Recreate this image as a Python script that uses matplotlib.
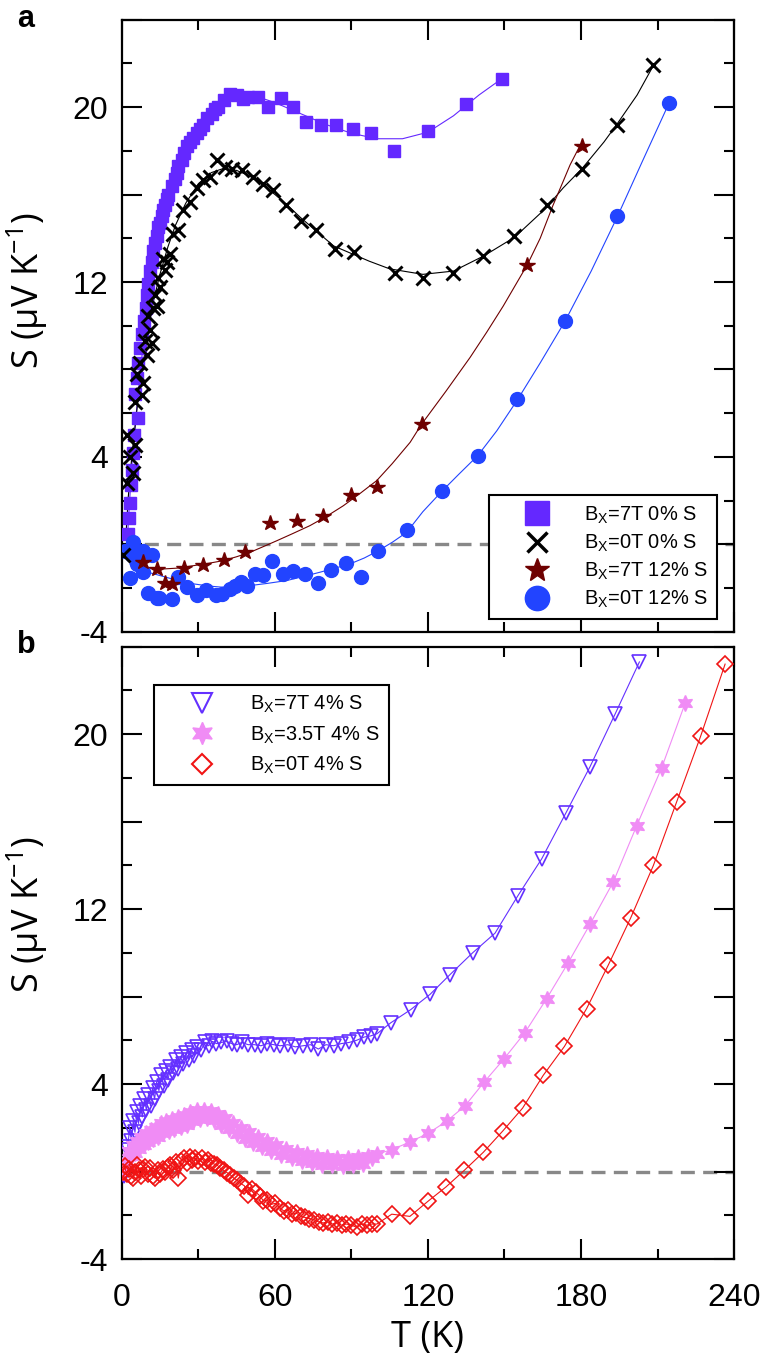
import matplotlib
matplotlib.use('Agg')
import matplotlib.pyplot as plt
from matplotlib.lines import Line2D
from matplotlib.ticker import MultipleLocator, FuncFormatter

plt.rcParams['font.family'] = ['Liberation Sans', 'DejaVu Sans']
plt.rcParams['mathtext.fontset'] = 'custom'
plt.rcParams['mathtext.rm'] = 'Liberation Sans'
plt.rcParams['axes.unicode_minus'] = False

# ---------------- panel a (0% S and 12% S) ----------------
sq_T = [2.2, 2.6, 3.1, 3.5, 3.8, 4.2, 4.6, 6.1, 5.0, 5.8, 6.4, 7.2, 7.7, 8.6, 9.4, 9.7, 10.3,
        11.0, 11.6, 12.3, 13.0, 13.6, 14.2, 14.9, 15.6, 16.2, 16.9, 17.5, 18.2, 19.5, 20.8,
        21.4, 22.1, 23.4, 24.5, 25.4, 26.7, 28.0, 29.3, 30.6, 31.9, 33.5, 35.2, 36.5, 37.8,
        40.0, 42.4, 45.0, 47.6, 49.5, 53.5, 57.4, 62.2, 67.2, 72.2, 78.0, 83.9, 90.5, 97.6,
        106.8, 120.1, 134.8, 148.9]
sq_S = [0.5, 1.2, 1.9, 2.7, 3.4, 4.2, 5.0, 5.8, 6.9, 7.6, 8.3, 9.0, 9.6, 10.2, 10.8, 11.4, 11.9,
        12.5, 12.9, 13.4, 13.8, 14.1, 14.5, 14.7, 15.0, 15.3, 15.5, 15.8, 16.0, 16.4, 16.7,
        17.0, 17.3, 17.6, 17.9, 18.2, 18.4, 18.6, 18.8, 19.0, 19.2, 19.5, 19.7, 19.9, 20.0,
        20.3, 20.6, 20.55, 20.35, 20.45, 20.45, 20.0, 20.4, 20.0, 19.3, 19.2, 19.2, 19.0, 18.8,
        18.0, 18.9, 20.15, 21.3]

x_T = [0.5, 1.8, 4.4, 1.8, 5.1, 3.0, 5.1, 7.7, 5.8, 7.1, 8.4, 9.7, 9.0, 11.0, 11.6, 10.3, 12.3,
       13.6, 12.9, 14.9, 14.2, 16.9, 16.2, 17.5, 18.8, 20.1, 22.1, 24.0, 26.7, 29.3, 31.9,
       34.5, 37.1, 40.4, 43.0, 46.9, 51.5, 55.4, 59.3, 64.4, 70.3, 76.2, 83.5, 91.1, 107.2,
       117.9, 129.7, 141.7, 153.7, 166.5, 180.5, 194.3, 208.4]
x_S = [-0.5, 2.8, 3.25, 5.0, 4.55, 4.0, 6.5, 6.85, 7.8, 8.3, 7.4, 8.65, 9.3, 9.8, 9.2, 10.45, 10.8,
       10.9, 11.4, 11.75, 12.2, 12.55, 13.05, 12.9, 13.3, 14.2, 14.4, 15.3, 15.65, 16.3, 16.65,
       16.8, 17.6, 17.25, 17.15, 17.1, 16.8, 16.5, 16.2, 15.5, 14.8, 14.4, 13.5, 13.35, 12.4,
       12.2, 12.4, 13.2, 14.1, 15.5, 17.15, 19.2, 21.9]

st_T = [8.4, 13.6, 16.9, 19.5, 24.3, 31.9, 40.0, 48.2, 58.0, 68.5, 78.9, 89.7, 99.9, 117.5,
        159.0, 180.3]
st_S = [-0.82, -1.12, -1.76, -1.8, -1.09, -0.94, -0.69, -0.33, 0.98, 1.09, 1.32, 2.28, 2.61, 5.5,
        12.8, 18.2]

ci_T = [1.0, 3.1, 3.8, 4.4, 6.0, 8.4, 8.4, 10.3, 11.6, 13.9, 14.6, 19.5, 22.1, 25.6, 29.3, 32.9,
        36.9, 39.1, 42.4, 44.3, 46.5, 48.9, 52.2, 55.4, 58.7, 63.0, 67.0, 71.8, 77.0, 82.1,
        87.7, 93.6, 100.3, 111.7, 125.6, 139.5, 155.0, 173.7, 194.3, 214.6]
ci_S = [-0.3, -1.55, -0.5, 0.13, -0.9, -0.28, -1.27, -2.2, -0.5, -2.45, -2.45, -2.5, -1.5, -1.95,
        -2.3, -2.08, -2.3, -2.25, -2.03, -1.88, -1.7, -1.88, -1.35, -1.38, -0.77, -1.36, -1.2,
        -1.36, -1.74, -1.17, -0.85, -1.48, -0.3, 0.66, 2.45, 4.06, 6.63, 10.2, 15.0, 20.2]

# fitted guide lines of panel a
sq_fit_T = [2, 3, 4, 6, 8, 10, 13, 16, 20, 25, 30, 35, 40, 45, 50, 55, 60, 70, 80, 90, 100,
            110, 120, 130, 140, 149]
sq_fit_S = [0.0, 2.0, 3.8, 6.5, 8.8, 10.7, 13.0, 14.8, 16.6, 18.2, 19.3, 20.0, 20.4, 20.5,
            20.5, 20.4, 20.2, 19.7, 19.2, 18.8, 18.55, 18.55, 18.85, 19.6, 20.55, 21.3]
x_fit_T = [1.5, 2.5, 4, 6, 8, 10, 12.5, 15, 18, 21, 25, 30, 35, 40, 45, 50, 55, 60, 65, 70, 76,
           83, 90, 97, 105, 118, 130, 142, 154, 166, 173, 180.5, 189, 194, 202, 208.4]
x_fit_S = [0.3, 2.2, 4.2, 6.3, 8.0, 9.6, 11.2, 12.4, 13.6, 14.6, 15.6, 16.5, 17.0, 17.2, 17.1,
           16.85, 16.45, 16.0, 15.5, 14.95, 14.35, 13.65, 13.3, 12.95, 12.6, 12.35, 12.5, 13.2,
           14.05, 15.35, 16.3, 17.2, 18.4, 19.2, 20.55, 21.9]
st_fit_T = [3.8, 8, 12, 16.2, 22, 28, 34, 39.7, 45, 50.2, 55, 60.7, 67, 73.7, 80, 86.8, 93,
            99.9, 106, 113, 117.5, 127, 136.5, 143, 149.5, 154, 159, 164, 169, 173, 175.7, 179,
            180.3]
st_fit_S = [-0.89, -1.0, -1.08, -1.12, -1.08, -0.97, -0.86, -0.74, -0.56, -0.36, -0.12, 0.17,
            0.5, 0.86, 1.27, 1.77, 2.3, 2.92, 3.7, 4.67, 5.5, 7.0, 8.55, 9.7, 10.9, 11.8, 12.8,
            14.0, 15.5, 16.6, 17.35, 18.1, 18.3]
ci_fit_T = [3.1, 8, 14.9, 21, 28, 34, 39, 45, 50.2, 57, 64.6, 71, 77.6, 83, 89.4, 95, 100.3,
            106, 111.6, 118, 125.6, 132, 139.5, 147, 155, 164, 173.7, 184, 194.3, 204, 214.6]
ci_fit_S = [-0.89, -1.2, -1.42, -1.62, -1.8, -1.9, -1.95, -1.93, -1.88, -1.78, -1.65, -1.47,
            -1.27, -1.1, -0.89, -0.62, -0.3, 0.1, 0.55, 1.5, 2.45, 3.2, 4.06, 5.2, 6.6, 8.3,
            10.2, 12.5, 15.0, 17.5, 20.2]

# ---------------- panel b (4% S) ----------------
tri_T = [0.8, 1.5, 2.2, 3.0, 3.7, 4.4, 5.1, 5.8, 6.5, 7.2, 8.0, 8.8, 9.6, 10.4, 11.2, 12.0, 12.8,
         13.6, 14.5, 15.4, 16.3, 17.2, 18.1, 19.0, 20.0, 21.0, 22.0, 23.0, 24.0, 25.1, 26.2,
         27.3, 28.4, 29.6, 31.0, 32.5, 34.0, 35.5, 37.0, 39.0, 41.0, 43.0, 45.0, 47.0, 49.5,
         52.0, 54.5, 57.0, 59.5, 62.0, 65.0, 68.0, 71.0, 74.0, 77.0, 80.0, 83.0, 86.0, 89.0,
         92.0, 95.0, 97.5, 100.0, 105.4, 113.2, 120.8, 128.6, 137.5, 146.3, 155.2, 164.6,
         174.1, 183.5, 193.3, 202.9]
tri_S = [-0.2, 1.1, 1.0, 2.0, 1.4, 2.3, 1.8, 2.7, 2.2, 3.0, 2.5, 3.3, 2.8, 3.5, 3.0, 3.8, 3.3,
         4.1, 3.7, 4.4, 3.9, 4.6, 4.2, 4.8, 4.5, 5.1, 4.7, 5.25, 4.9, 5.4, 5.1, 5.55, 5.3,
         5.7, 5.55, 5.9, 5.75, 5.95, 5.85, 5.9, 5.95, 5.85, 5.8, 5.9, 5.8, 5.8, 5.75, 5.85, 5.8,
         5.75, 5.8, 5.7, 5.75, 5.8, 5.6, 5.8, 5.75, 5.85, 5.9, 6.0, 6.15, 6.2, 6.3, 6.8, 7.4,
         8.1, 9.0, 10.0, 10.9, 12.6, 14.3, 16.4, 18.5, 20.9, 23.3]

hex_T = [0.5, 1.2, 2.0, 2.8, 3.6, 4.4, 5.2, 6.0, 6.8, 7.6, 8.5, 9.4, 10.3, 11.2, 12.2, 13.2,
         14.2, 15.2, 16.2, 17.3, 18.4, 19.5, 20.6, 21.8, 23.0, 24.2, 25.4, 26.7, 28.0, 29.3,
         30.6, 32.0, 33.4, 34.8, 36.2, 37.6, 39.0, 40.5, 42.0, 43.5, 45.0, 46.6, 48.2, 49.8,
         51.5, 53.2, 55.0, 56.8, 58.6, 60.5, 62.5, 64.5, 66.5, 68.5, 70.5, 72.5, 74.5, 76.5,
         78.5, 80.5, 82.5, 84.5, 86.5, 88.5, 90.5, 92.5, 94.5, 96.5, 98.0, 100.0, 105.8, 112.9,
         120.1, 127.3, 134.5, 142.1, 149.8, 158.0, 166.5, 175.0, 183.5, 192.7, 201.8, 211.6,
         220.8]
hex_S = [0.0, 0.5, 0.35, 0.95, 0.7, 1.2, 0.85, 1.4, 1.05, 1.6, 1.2, 1.75, 1.35, 1.9, 1.5, 2.05,
         1.6, 2.2, 1.75, 2.3, 1.85, 2.4, 1.95, 2.5, 2.05, 2.6, 2.15, 2.7, 2.3, 2.8, 2.4, 2.8,
         2.45, 2.75, 2.35, 2.65, 2.15, 2.45, 1.95, 2.2, 1.7, 2.0, 1.5, 1.8, 1.3, 1.6, 1.1, 1.4,
         0.95, 1.2, 0.75, 1.05, 0.6, 0.9, 0.5, 0.8, 0.4, 0.7, 0.3, 0.65, 0.3, 0.6, 0.25, 0.6,
         0.3, 0.65, 0.35, 0.7, 0.6, 0.8, 1.0, 1.35, 1.75, 2.3, 3.0, 4.1, 5.15, 6.35,
         7.9, 9.55, 11.3, 13.25, 15.8, 18.45, 21.4]

dia_T = [0.3, 1.0, 1.8, 2.6, 3.4, 4.2, 5.0, 5.8, 6.6, 7.4, 8.3, 9.2, 10.1, 11.0, 12.0, 13.0,
         14.0, 15.0, 16.0, 17.0, 18.0, 19.0, 20.0, 21.0, 22.1, 23.2, 24.3, 25.4, 26.5, 27.6,
         28.8, 30.0, 31.2, 32.4, 33.6, 34.8, 36.0, 37.3, 38.6, 39.9, 41.2, 42.5, 43.8, 45.2,
         46.6, 48.0, 49.5, 51.0, 52.5, 54.0, 55.5, 57.0, 58.6, 60.2, 61.8, 63.4, 65.0, 66.7,
         68.4, 70.1, 71.8, 73.5, 75.3, 77.1, 78.9, 80.7, 82.5, 84.3, 86.1, 88.0, 90.0, 92.0,
         94.0, 96.0, 98.0, 100.0, 105.8, 112.9, 120.1, 127.1, 134.2, 141.7, 149.3, 157.1,
         165.2, 173.5, 182.2, 190.7, 199.5, 208.4, 217.5, 226.9, 236.5]
dia_S = [0.0, 0.25, -0.1, 0.1, -0.2, -0.3, 0.0, 0.3, 0.05, -0.2, 0.1, 0.2, -0.1, 0.15, -0.2,
         -0.3, 0.05, -0.1, 0.1, 0.0, 0.2, 0.3, 0.05, 0.45, -0.3, 0.5, 0.6, 0.4, 0.65, 0.55, 0.6,
         0.5, 0.6, 0.45, 0.55, 0.4, 0.35, 0.3, 0.15, 0.05, -0.05, -0.15, -0.3, -0.4, -0.55,
         -0.65, -1.05, -0.8, -0.95, -1.1, -1.35, -1.3, -1.5, -1.45, -1.65, -1.8, -1.75, -1.95,
         -1.9, -2.05, -2.1, -2.15, -2.2, -2.3, -2.35, -2.3, -2.4, -2.35, -2.45, -2.4, -2.45,
         -2.55, -2.4, -2.45, -2.4, -2.4, -1.95, -2.05, -1.35, -0.7, 0.05, 0.88, 1.85, 2.9, 4.4,
         5.72, 7.45, 9.44, 11.6, 14.0, 16.9, 19.9, 23.2]

labels_a = [r'B$_\mathregular{X}$=7T 0% S', r'B$_\mathregular{X}$=0T 0% S',
            r'B$_\mathregular{X}$=7T 12% S', r'B$_\mathregular{X}$=0T 12% S']
labels_b = [r'B$_\mathregular{X}$=7T 4% S', r'B$_\mathregular{X}$=3.5T 4% S',
            r'B$_\mathregular{X}$=0T 4% S']

c_sq = '#6428ff'
c_st = '#6e0000'
c_ci = '#2244ff'
c_tri = '#6430ff'
c_hex = '#f08cf5'
c_dia = '#f01414'

fig = plt.figure(figsize=(7.67, 13.57), dpi=100)
axa = fig.add_axes([0.159, 0.5343, 0.798, 0.4513])
axb = fig.add_axes([0.159, 0.0722, 0.798, 0.4513])


def style(ax):
    ax.set_xlim(0, 240)
    ax.set_ylim(-4, 24)
    ax.xaxis.set_major_locator(MultipleLocator(60))
    ax.xaxis.set_minor_locator(MultipleLocator(30))
    ax.yaxis.set_major_locator(MultipleLocator(4))
    ax.yaxis.set_minor_locator(MultipleLocator(2))
    ax.yaxis.set_major_formatter(FuncFormatter(
        lambda v, p: f'{int(round(v))}' if int(round(v)) % 8 == 4 else ''))
    ax.tick_params(which='both', direction='in', top=True, right=True, width=1.5)
    ax.tick_params(which='major', length=14.5, labelsize=23)
    ax.tick_params(axis='y', which='major', pad=10)
    ax.tick_params(axis='x', which='major', pad=17)
    ax.tick_params(which='minor', length=7.2)
    for s in ax.spines.values():
        s.set_linewidth(1.6)
    ax.axhline(0, color='#888888', lw=2.4, dashes=(4.2, 2.5), zorder=1.5)
    ax.set_ylabel('S (μV K$^{\\mathregular{-1}}$)', fontsize=26,
                  family=['Open Sans', 'DejaVu Sans'])


style(axa)
style(axb)
axa.tick_params(labelbottom=False)

# panel a: fit lines then markers
axa.plot(sq_fit_T, sq_fit_S, color=c_sq, lw=0.8, zorder=2)
axa.plot(x_fit_T, x_fit_S, color='black', lw=0.8, zorder=2)
axa.plot(st_fit_T, st_fit_S, color=c_st, lw=0.8, zorder=2)
axa.plot(ci_fit_T, ci_fit_S, color=c_ci, lw=0.8, zorder=2)
axa.plot(sq_T, sq_S, ls='none', marker='s', ms=9.3, color=c_sq, mec=c_sq, zorder=3)
axa.plot(x_T, x_S, ls='none', marker='x', ms=9.8, mew=2.1, color='black', zorder=4)
axa.plot(ci_T, ci_S, ls='none', marker='o', ms=10, color=c_ci, mec=c_ci, zorder=3)
axa.plot(st_T, st_S, ls='none', marker='*', ms=11.5, color=c_st, mec=c_st, zorder=4)

fs_leg = 14.4
hand_a = [Line2D([], [], ls='none', marker='s', ms=17, color=c_sq),
          Line2D([], [], ls='none', marker='x', ms=15, mew=2.5, color='black'),
          Line2D([], [], ls='none', marker='*', ms=18, color=c_st),
          Line2D([], [], ls='none', marker='o', ms=17.5, color=c_ci)]
leg = axa.legend(hand_a, labels_a, loc='lower right', bbox_to_anchor=(0.972, 0.021),
                 borderaxespad=0, fontsize=fs_leg, handlelength=3.9, handletextpad=0.4,
                 labelspacing=0.34, borderpad=0.45, fancybox=False, framealpha=1,
                 edgecolor='black')
leg.get_frame().set_linewidth(1.5)

# panel b
axb.plot(tri_T, tri_S, '-', lw=0.8, color=c_tri, marker='v', ms=10, mfc='none', mew=1.2,
         mec=c_tri, zorder=3)
axb.plot(hex_T, hex_S, '-', lw=0.8, color=c_hex, marker=(6, 1, 0), ms=11.5, mfc=c_hex,
         mec=c_hex, zorder=3)
axb.plot(dia_T, dia_S, '-', lw=0.8, color=c_dia, marker='D', ms=7.8, mfc='none', mew=1.2,
         mec=c_dia, zorder=3)

hand_b = [Line2D([], [], ls='none', marker='v', ms=14, mfc='none', mew=1.5, color=c_tri),
          Line2D([], [], ls='none', marker=(6, 1, 0), ms=16, color=c_hex),
          Line2D([], [], ls='none', marker='D', ms=10.5, mfc='none', mew=1.5, color=c_dia)]
leg = axb.legend(hand_b, labels_b, loc='upper left', bbox_to_anchor=(0.053, 0.937),
                 borderaxespad=0, fontsize=fs_leg, handlelength=3.9, handletextpad=0.45,
                 labelspacing=0.45, borderpad=0.45, fancybox=False, framealpha=1,
                 edgecolor='black')
leg.get_frame().set_linewidth(1.5)

axb.set_xlabel('T (K)', fontsize=26, family=['Open Sans', 'DejaVu Sans'])
axb.xaxis.set_label_coords(0.5, -0.1)
axa.yaxis.set_label_coords(-0.118, 0.558)
axb.yaxis.set_label_coords(-0.118, 0.562)

fig.text(0.022, 0.980, 'a', fontsize=22, fontweight='bold', va='baseline')
fig.text(0.022, 0.519, 'b', fontsize=22, fontweight='bold', va='baseline')

fig.savefig('out.png', dpi=100)
